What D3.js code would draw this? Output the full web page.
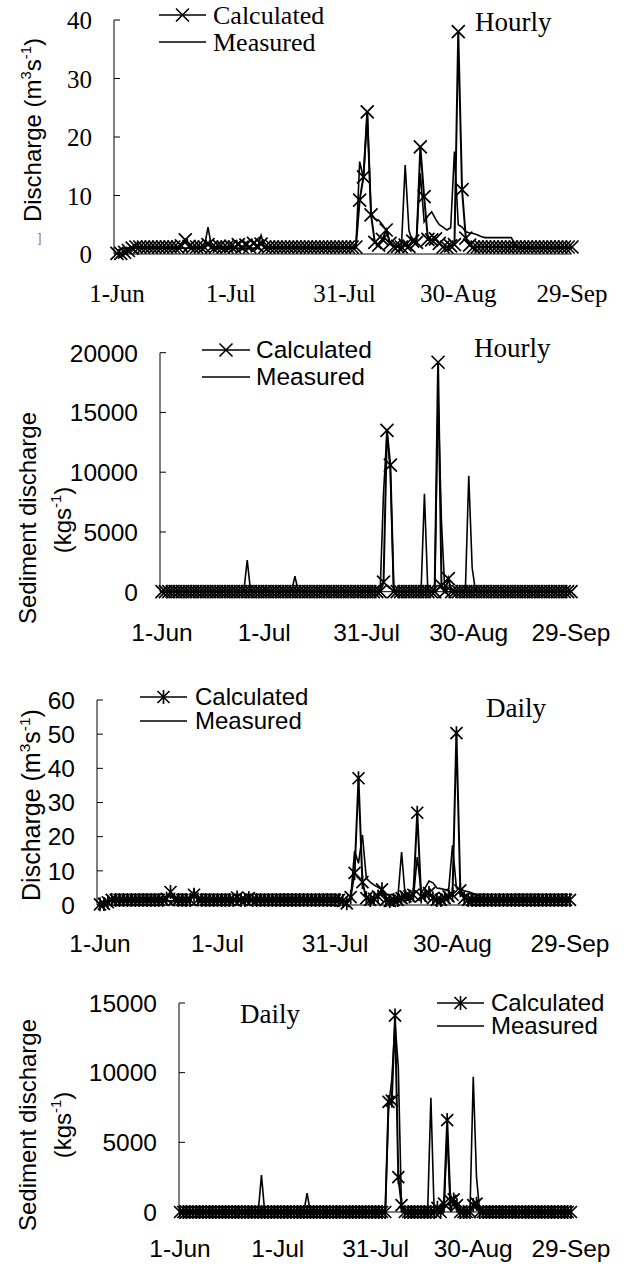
<!DOCTYPE html>
<html>
<head>
<meta charset="utf-8">
<style>
  body { margin: 0; background: #fff; }
</style>
</head>
<body>
<svg width="624" height="1266"></svg>

<script src="https://d3js.org/d3.v7.min.js"></script>

<script>
    // day index 0 = 1-Jun ... 120 = 29-Sep
    var days = d3.range(121);
    var tickDays = [0, 30, 60, 90, 120];
    var tickLabels = ["1-Jun", "1-Jul", "31-Jul", "30-Aug", "29-Sep"];

    // hourly discharge (m3/s)
    var hourlyQCalc = [
        0.1, 0.1, 0.3, 0.6, 1.0, 1.2, 1.2, 1.2, 1.2, 1.2,
        1.2, 1.2, 1.2, 1.2, 1.2, 1.2, 1.2, 1.4, 2.4, 1.3,
        1.2, 1.2, 1.2, 1.2, 1.6, 1.2, 1.2, 1.3, 1.2, 1.2,
        1.3, 1.2, 1.6, 1.2, 1.5, 1.2, 1.8, 1.4, 1.7, 1.2,
        1.2, 1.2, 1.2, 1.2, 1.2, 1.2, 1.2, 1.2, 1.2, 1.2,
        1.2, 1.2, 1.2, 1.2, 1.2, 1.2, 1.2, 1.2, 1.2, 1.2,
        1.2, 1.2, 1.2, 1.2, 9.2, 13.2, 24.3, 6.7, 2.0, 1.5,
        2.5, 4.1, 1.8, 1.2, 1.3, 1.2, 1.5, 1.3, 2.2, 2.0,
        18.3, 9.8, 2.5, 2.4, 2.6, 1.8, 1.2, 1.2, 1.4, 1.6,
        38.0, 11.0, 2.7, 1.5, 1.2, 1.2, 1.2, 1.2, 1.2, 1.2,
        1.2, 1.2, 1.2, 1.2, 1.2, 1.2, 1.2, 1.2, 1.2, 1.2,
        1.2, 1.2, 1.2, 1.2, 1.2, 1.2, 1.2, 1.2, 1.2, 1.2,
        1.2
    ];
    var hourlyQMeas = [
        0.6, 0.9, 1.0, 1.0, 1.0, 1.0, 1.0, 1.0, 1.0, 1.0,
        1.0, 1.0, 1.0, 1.0, 1.0, 1.0, 1.0, 1.0, 1.0, 1.0,
        1.0, 1.0, 1.0, 1.0, 4.6, 1.0, 1.0, 1.0, 1.0, 1.0,
        1.0, 1.0, 1.0, 1.0, 1.0, 1.0, 1.0, 1.0, 3.2, 1.0,
        1.0, 1.0, 1.0, 1.0, 1.0, 1.0, 1.0, 1.0, 1.0, 1.0,
        1.0, 1.0, 1.0, 1.0, 1.0, 1.0, 1.0, 1.0, 1.0, 1.0,
        1.0, 1.0, 1.0, 1.0, 15.8, 13.0, 24.0, 7.0, 6.0, 5.8,
        5.0, 4.1, 2.0, 1.5, 1.2, 1.0, 15.2, 4.0, 2.0, 3.0,
        13.8, 5.5, 6.5, 7.2, 6.0, 5.0, 4.6, 4.1, 4.5, 17.5,
        5.0, 4.6, 3.8, 3.6, 3.5, 3.3, 3.0, 2.8, 2.8, 2.8,
        2.8, 2.8, 2.8, 2.8, 2.8, 1.5, 1.0, 1.0, 1.0, 1.0,
        1.0, 1.0, 1.0, 1.0, 1.0, 1.0, 1.0, 1.0, 1.0, 1.0,
        1.0
    ];

    // hourly sediment discharge (kg/s)
    var hourlySCalc = [
        0, 0, 0, 0, 0, 0, 0, 0, 0, 0,
        0, 0, 0, 0, 0, 0, 0, 0, 0, 0,
        0, 0, 0, 0, 0, 0, 0, 0, 0, 0,
        0, 0, 0, 0, 0, 0, 0, 0, 0, 0,
        0, 0, 0, 0, 0, 0, 0, 0, 0, 0,
        0, 0, 0, 0, 0, 0, 0, 0, 0, 0,
        0, 0, 0, 0, 0, 800, 13500, 10600, 0, 0,
        0, 0, 0, 0, 0, 0, 0, 0, 0, 0,
        0, 19200, 500, 0, 1100, 0, 0, 0, 0, 0,
        0, 0, 0, 0, 0, 0, 0, 0, 0, 0,
        0, 0, 0, 0, 0, 0, 0, 0, 0, 0,
        0, 0, 0, 0, 0, 0, 0, 0, 0, 0,
        0
    ];
    var hourlySMeas = [
        0, 0, 0, 0, 0, 0, 0, 0, 0, 0,
        0, 0, 0, 0, 0, 0, 0, 0, 0, 0,
        0, 0, 0, 0, 0, 2650, 0, 0, 0, 0,
        250, 0, 0, 0, 0, 0, 0, 0, 0, 1300,
        0, 0, 0, 0, 0, 0, 0, 0, 0, 0,
        0, 0, 0, 0, 0, 0, 0, 0, 0, 0,
        0, 300, 0, 0, 0, 8300, 13300, 10000, 0, 0,
        0, 0, 0, 0, 0, 0, 0, 8200, 0, 0,
        0, 16300, 5800, 0, 0, 0, 0, 0, 0, 0,
        9700, 2000, 0, 0, 0, 0, 0, 0, 0, 0,
        0, 0, 0, 0, 0, 0, 0, 0, 0, 0,
        0, 0, 0, 0, 0, 0, 0, 0, 0, 0,
        0
    ];

    // daily discharge (m3/s)
    var dailyQCalc = [
        0.2, 0.3, 0.8, 1.5, 1.5, 1.5, 1.5, 1.5, 1.5, 1.5,
        1.5, 1.5, 1.5, 1.5, 1.5, 1.5, 1.5, 1.8, 3.8, 1.6,
        1.5, 1.5, 1.5, 1.5, 3.0, 1.6, 1.5, 1.5, 1.5, 1.5,
        1.5, 1.5, 1.5, 1.5, 1.5, 2.2, 1.5, 1.5, 2.0, 1.5,
        1.5, 1.5, 1.5, 1.5, 1.5, 1.5, 1.5, 1.5, 1.5, 1.5,
        1.5, 1.5, 1.5, 1.5, 1.5, 1.5, 1.5, 1.5, 1.5, 1.5,
        1.5, 1.5, 1.2, 0.5, 2.3, 9.4, 37.1, 6.7, 2.0, 1.5,
        1.8, 2.5, 4.6, 1.5, 1.2, 1.5, 1.5, 2.0, 2.5, 2.5,
        3.0, 27.0, 2.5, 3.0, 3.5, 2.0, 1.5, 1.5, 2.0, 2.5,
        3.0, 50.3, 4.3, 2.0, 1.5, 1.5, 1.5, 1.5, 1.5, 1.5,
        1.5, 1.5, 1.5, 1.5, 1.5, 1.5, 1.5, 1.5, 1.5, 1.5,
        1.5, 1.5, 1.5, 1.5, 1.5, 1.5, 1.5, 1.5, 1.5, 1.5,
        1.5
    ];
    var dailyQMeas = [
        0.6, 1.0, 1.2, 1.2, 1.2, 1.2, 1.2, 1.2, 1.2, 1.2,
        1.2, 1.2, 1.2, 1.2, 1.2, 1.2, 1.2, 1.2, 1.2, 1.2,
        1.2, 1.2, 1.2, 1.2, 4.3, 1.2, 1.2, 1.2, 1.2, 1.2,
        1.2, 1.2, 1.2, 1.2, 1.2, 1.2, 1.2, 1.2, 1.2, 1.2,
        1.2, 1.2, 1.2, 1.2, 1.2, 1.2, 1.2, 1.2, 1.2, 1.2,
        1.2, 1.2, 1.2, 1.2, 1.2, 1.2, 1.2, 1.2, 1.2, 1.2,
        1.2, 1.2, 1.2, 1.2, 2.0, 15.8, 12.2, 20.5, 7.8, 6.7,
        5.8, 5.2, 4.5, 2.0, 1.2, 1.2, 1.5, 15.5, 1.5, 1.5,
        2.0, 14.0, 3.8, 5.0, 7.0, 6.5, 5.0, 4.8, 4.5, 4.2,
        17.5, 5.0, 4.7, 4.2, 3.9, 3.5, 3.0, 2.5, 2.0, 1.5,
        1.2, 1.2, 1.2, 1.2, 1.2, 1.2, 1.2, 1.2, 1.2, 1.2,
        1.2, 1.2, 1.2, 1.2, 1.2, 1.2, 1.2, 1.2, 1.2, 1.2,
        1.2
    ];

    // daily sediment discharge (kg/s)
    var dailySCalc = [
        0, 0, 0, 0, 0, 0, 0, 0, 0, 0,
        0, 0, 0, 0, 0, 0, 0, 0, 0, 0,
        0, 0, 0, 0, 0, 0, 0, 0, 0, 0,
        0, 0, 0, 0, 0, 0, 0, 0, 0, 0,
        0, 0, 0, 0, 0, 0, 0, 0, 0, 0,
        0, 0, 0, 0, 0, 0, 0, 0, 0, 0,
        0, 0, 0, 0, 7900, 8000, 14100, 2500, 500, 0,
        0, 0, 0, 0, 0, 0, 0, 0, 0, 300,
        0, 600, 6600, 800, 900, 500, 0, 0, 0, 0,
        500, 600, 0, 0, 0, 0, 0, 0, 0, 0,
        0, 0, 0, 0, 0, 0, 0, 0, 0, 0,
        0, 0, 0, 0, 0, 0, 0, 0, 0, 0,
        0
    ];
    var dailySMeas = [
        0, 0, 0, 0, 0, 0, 0, 0, 0, 0,
        0, 0, 0, 0, 0, 0, 0, 0, 0, 0,
        0, 0, 0, 0, 0, 2650, 0, 0, 0, 0,
        200, 0, 0, 0, 0, 0, 0, 0, 0, 1350,
        0, 0, 0, 0, 0, 0, 0, 0, 0, 0,
        0, 0, 0, 0, 0, 0, 0, 0, 0, 0,
        200, 0, 0, 0, 7500, 9500, 13600, 10400, 0, 0,
        0, 0, 0, 0, 0, 0, 0, 8200, 0, 0,
        0, 0, 5800, 0, 900, 0, 0, 0, 0, 0,
        9700, 2500, 0, 0, 0, 0, 0, 0, 0, 0,
        0, 0, 0, 0, 0, 0, 0, 0, 0, 0,
        0, 0, 0, 0, 0, 0, 0, 0, 0, 0,
        0
    ];

    var qTicksHourly = [0, 10, 20, 30, 40];
    var sTicksHourly = [0, 5000, 10000, 15000, 20000];
    var qTicksDaily = [0, 10, 20, 30, 40, 50, 60];
    var sTicksDaily = [0, 5000, 10000, 15000];

    var SERIF = "'Liberation Serif', 'Times New Roman', serif";
    var SANS = "'Liberation Sans', Arial, sans-serif";

    var svg = d3.select("svg");

    var markerX = "M-6.5,-6.5L6.5,6.5M-6.5,6.5L6.5,-6.5";
    var markerStar = "M-6,-6L6,6M-6,6L6,-6M0,-7L0,7";

    function drawPanel(p) {
        var x = d3.scaleLinear().domain([0, 120]).range([p.x0, p.x1]);
        var y = d3.scaleLinear().domain([0, p.yMax]).range([p.yBase, p.yTop]);
        var g = svg.append("g");
        var tickFont = p.serifTicks ? SERIF : SANS;

        // y axis with inward ticks
        g.append("line")
            .attr("x1", p.axisX).attr("x2", p.axisX)
            .attr("y1", y(p.yMax)).attr("y2", y(0))
            .attr("stroke", "#000").attr("stroke-width", 1);
        g.selectAll(".ytick").data(p.yTicks).enter().append("line")
            .attr("x1", p.axisX).attr("x2", p.axisX + 6)
            .attr("y1", function(d) { return y(d); })
            .attr("y2", function(d) { return y(d); })
            .attr("stroke", "#000");
        g.selectAll(".ylab").data(p.yTicks).enter().append("text")
            .attr("x", p.axisX - 22)
            .attr("y", function(d) { return y(d); })
            .attr("dy", "0.36em")
            .attr("text-anchor", "end")
            .style("font-family", tickFont)
            .style("font-size", p.tickSize + "px")
            .text(function(d) { return d; });

        // x axis line, labels below without ticks
        g.append("line")
            .attr("x1", p.axisX).attr("x2", x(120))
            .attr("y1", y(0)).attr("y2", y(0))
            .attr("stroke", "#000");
        g.selectAll(".xlab").data(tickDays).enter().append("text")
            .attr("x", function(d) { return x(d); })
            .attr("y", p.xLabelY)
            .attr("text-anchor", "middle")
            .style("font-family", tickFont)
            .style("font-size", p.tickSize + "px")
            .text(function(d, i) { return tickLabels[i]; });

        var line = d3.line()
            .x(function(d, i) { return x(days[i]); })
            .y(function(d) { return y(d); });

        g.append("path")
            .attr("d", line(p.meas))
            .attr("fill", "none").attr("stroke", "#000").attr("stroke-width", 1.6);
        g.append("path")
            .attr("d", line(p.calc))
            .attr("fill", "none").attr("stroke", "#000").attr("stroke-width", 2);
        g.selectAll(".mk").data(p.calc).enter().append("path")
            .attr("transform", function(d, i) { return "translate(" + x(days[i]) + "," + y(d) + ")"; })
            .attr("d", p.marker)
            .attr("fill", "none").attr("stroke", "#000").attr("stroke-width", 1.7);

        // legend
        var L = p.legend;
        var legFont = p.serifTicks ? SERIF : SANS;
        g.append("line").attr("x1", L.x1).attr("x2", L.x2).attr("y1", L.y1).attr("y2", L.y1)
            .attr("stroke", "#000").attr("stroke-width", 1.6);
        g.append("path").attr("d", p.marker)
            .attr("transform", "translate(" + ((L.x1 + L.x2) / 2) + "," + L.y1 + ")")
            .attr("fill", "none").attr("stroke", "#000").attr("stroke-width", 1.6);
        g.append("line").attr("x1", L.x1).attr("x2", L.x2).attr("y1", L.y2).attr("y2", L.y2)
            .attr("stroke", "#000").attr("stroke-width", 1.6);
        g.append("text").attr("x", L.tx).attr("y", L.y1).attr("dy", "0.34em")
            .style("font-family", legFont).style("font-size", L.size + "px")
            .text("Calculated");
        g.append("text").attr("x", L.tx).attr("y", L.y2).attr("dy", "0.34em")
            .style("font-family", legFont).style("font-size", L.size + "px")
            .text("Measured");

        // Hourly / Daily
        g.append("text").attr("x", p.note.x).attr("y", p.note.y)
            .style("font-family", SERIF).style("font-size", "27px")
            .text(p.note.text);

        // y axis title
        p.ytitle.forEach(function(t) {
            var tx = g.append("text")
                .attr("transform", "translate(" + t.x + "," + t.y + ") rotate(-90)")
                .attr("text-anchor", "middle")
                .style("font-family", SANS)
                .style("font-size", t.size + "px");
            t.parts.forEach(function(part) {
                var ts = tx.append("tspan").text(part[0]);
                if (part[1] === "sup") ts.attr("dy", -0.42 * t.size).style("font-size", (t.size * 0.62) + "px");
                if (part[1] === "down") ts.attr("dy", 0.42 * t.size);
            });
        });
    }

    var dischargeTitle = [["Discharge (m"], ["3", "sup"], ["s", "down"], ["-1", "sup"], [")", "down"]];

    drawPanel({
        x0: 117, x1: 572, axisX: 114, yBase: 254, yTop: 20, yMax: 40,
        yTicks: qTicksHourly, serifTicks: true, tickSize: 25, xLabelY: 302,
        calc: hourlyQCalc, meas: hourlyQMeas, marker: markerX,
        legend: { x1: 159, x2: 206, y1: 15, y2: 42, tx: 213, size: 26 },
        note: { text: "Hourly", x: 475, y: 31 },
        ytitle: [{ x: 41, y: 130, size: 24, parts: dischargeTitle }]
    });

    drawPanel({
        x0: 162, x1: 571, axisX: 160, yBase: 591.7, yTop: 352.7, yMax: 20000,
        yTicks: sTicksHourly, serifTicks: false, tickSize: 24.5, xLabelY: 641,
        calc: hourlySCalc, meas: hourlySMeas, marker: markerX,
        legend: { x1: 202, x2: 250, y1: 350, y2: 377, tx: 256, size: 24.5 },
        note: { text: "Hourly", x: 474, y: 357 },
        ytitle: [
            { x: 36, y: 518, size: 24, parts: [["Sediment discharge"]] },
            { x: 71, y: 520, size: 24, parts: [["(kgs"], ["-1", "sup"], [")", "down"]] }
        ]
    });

    drawPanel({
        x0: 100, x1: 570, axisX: 97, yBase: 905, yTop: 700, yMax: 60,
        yTicks: qTicksDaily, serifTicks: false, tickSize: 24.5, xLabelY: 952,
        calc: dailyQCalc, meas: dailyQMeas, marker: markerStar,
        legend: { x1: 140, x2: 187, y1: 697, y2: 721, tx: 195, size: 24 },
        note: { text: "Daily", x: 486, y: 717 },
        ytitle: [{ x: 40, y: 805, size: 25, parts: dischargeTitle }]
    });

    drawPanel({
        x0: 180, x1: 571, axisX: 179, yBase: 1212, yTop: 1003, yMax: 15000,
        yTicks: sTicksDaily, serifTicks: false, tickSize: 24.5, xLabelY: 1257,
        calc: dailySCalc, meas: dailySMeas, marker: markerStar,
        legend: { x1: 437, x2: 484, y1: 1003, y2: 1026, tx: 491, size: 24 },
        note: { text: "Daily", x: 240, y: 1023 },
        ytitle: [
            { x: 36, y: 1125, size: 24, parts: [["Sediment discharge"]] },
            { x: 71, y: 1125, size: 24, parts: [["(kgs"], ["-1", "sup"], [")", "down"]] }
        ]
    });

    // small leftover bracket mark near the first axis title
    svg.append("text").attr("x", 38).attr("y", 242)
        .style("font-family", SANS).style("font-size", "12px").style("fill", "#777")
        .text("]");
</script>
</body>
</html>
